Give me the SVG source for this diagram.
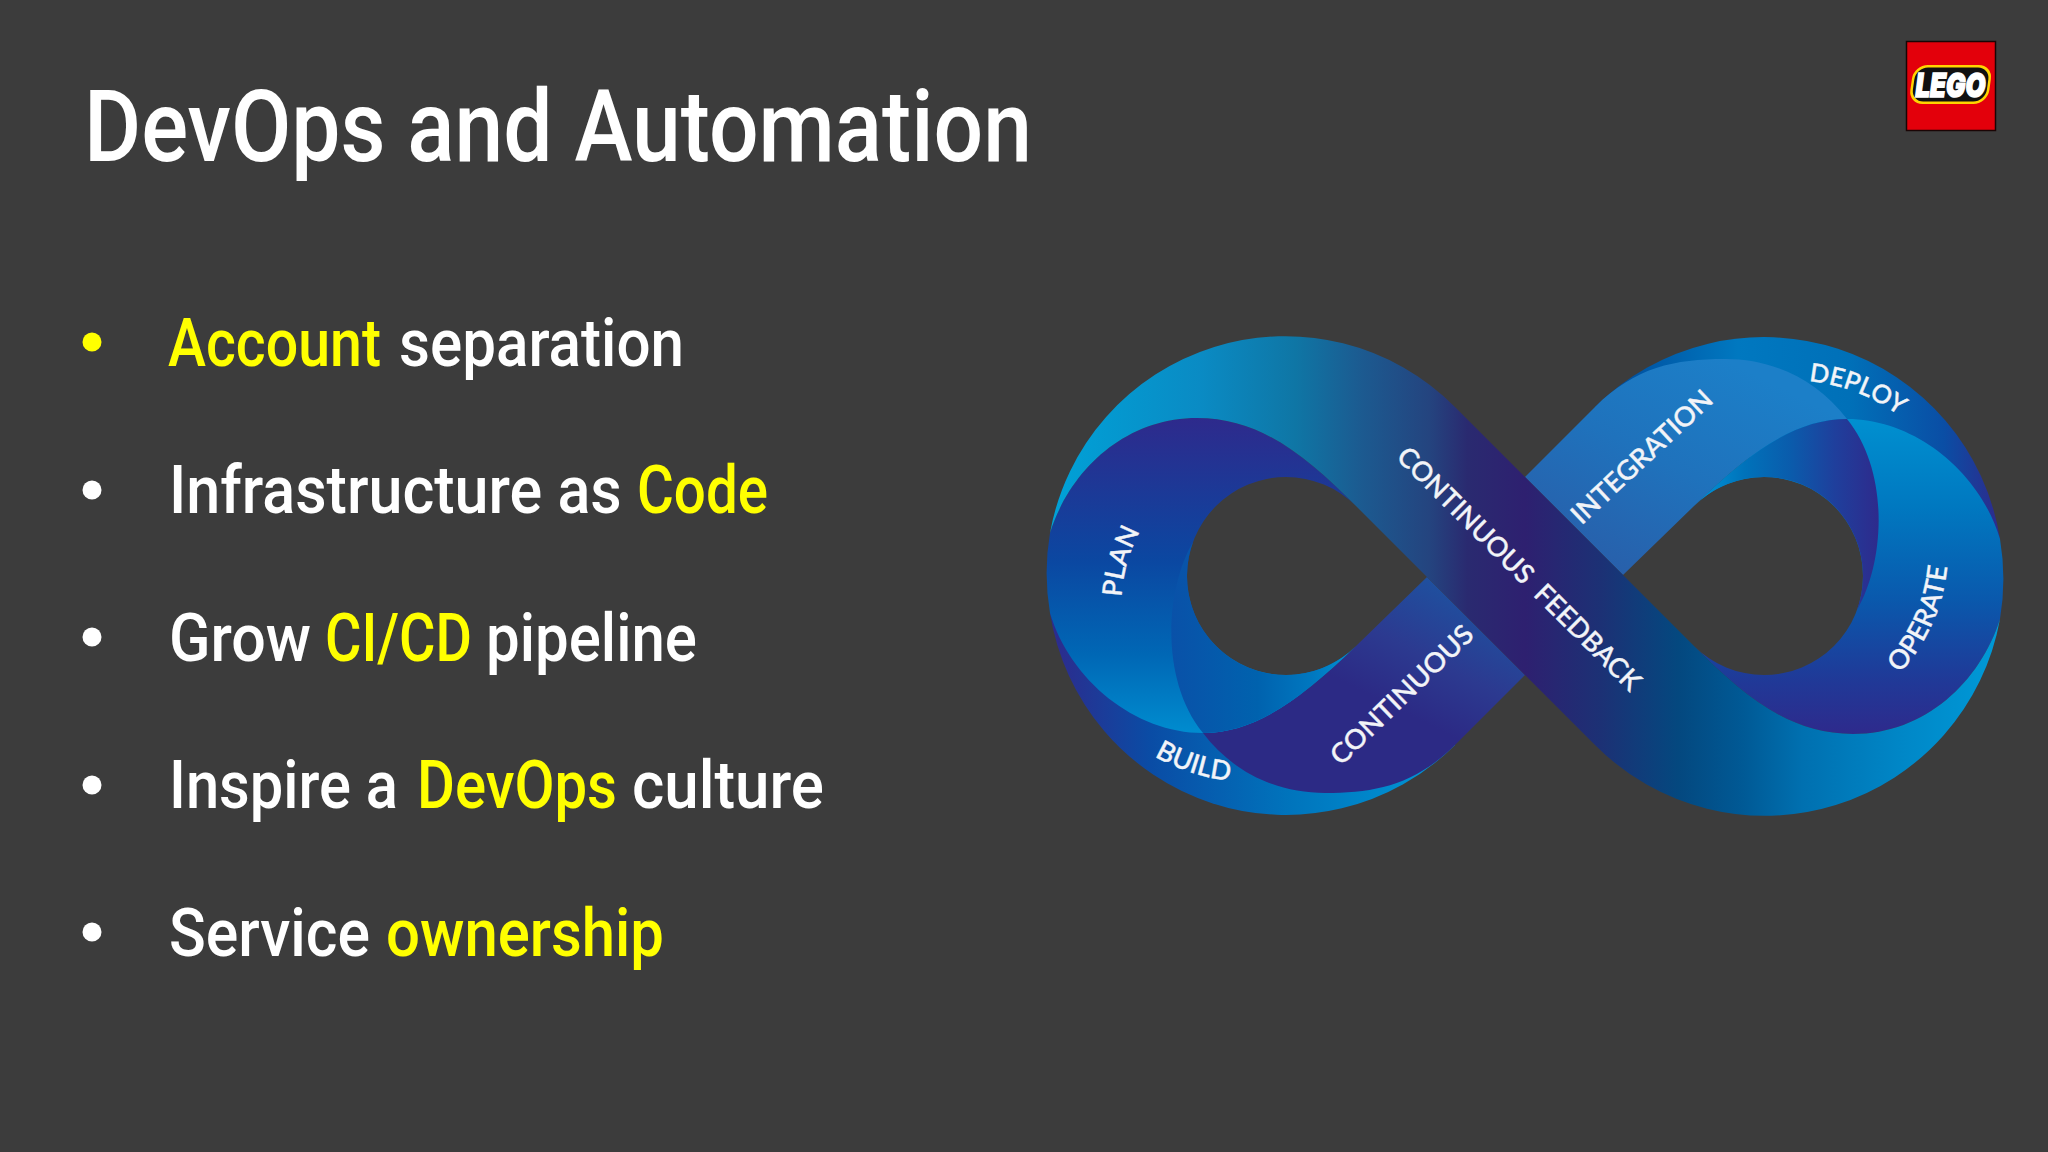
<svg xmlns="http://www.w3.org/2000/svg" xmlns:xlink="http://www.w3.org/1999/xlink" width="2048" height="1152" viewBox="0 0 2048 1152">
<style>
text{font-family:"Roboto","Liberation Sans",sans-serif;font-weight:500}
.w{fill:#fff;font-size:67px}
.y{fill:#ffff00;font-size:67px}
.l{fill:#f2f4f8;stroke:#f2f4f8;stroke-width:.4;font-family:"Lato","Liberation Sans",sans-serif;font-size:27px;font-weight:500;white-space:pre}
</style>
<defs>
<linearGradient id="gA" gradientUnits="userSpaceOnUse" x1="1047" y1="0" x2="2003" y2="0">
<stop offset="0" stop-color="#00a2d8"/><stop offset=".16" stop-color="#0a8bc4"/><stop offset=".26" stop-color="#0f76a5"/><stop offset=".33" stop-color="#1c5a90"/><stop offset=".40" stop-color="#24447f"/><stop offset=".44" stop-color="#2a2a70"/><stop offset=".5" stop-color="#2e2070"/><stop offset=".58" stop-color="#1c3175"/><stop offset=".66" stop-color="#04487f"/><stop offset=".73" stop-color="#005a96"/><stop offset=".79" stop-color="#0070b0"/><stop offset=".9" stop-color="#0088c8"/><stop offset="1" stop-color="#009ad8"/>
</linearGradient>
<linearGradient id="gB" gradientUnits="userSpaceOnUse" x1="0" y1="418" x2="0" y2="733">
<stop offset="0" stop-color="#2e2a8c"/><stop offset=".45" stop-color="#0b47a1"/><stop offset=".75" stop-color="#0067b5"/><stop offset="1" stop-color="#008ccf"/>
</linearGradient>
<linearGradient id="gB2" gradientUnits="userSpaceOnUse" x1="0" y1="418" x2="0" y2="733">
<stop offset="0" stop-color="#2e2a8c"/><stop offset=".18" stop-color="#1f3a98"/><stop offset=".42" stop-color="#0a58ac"/><stop offset=".72" stop-color="#0078c0"/><stop offset="1" stop-color="#0090d0"/>
</linearGradient>
<linearGradient id="gC" gradientUnits="userSpaceOnUse" x1="1165" y1="0" x2="1350" y2="0">
<stop offset="0" stop-color="#0a50a8"/><stop offset=".5" stop-color="#0062ae"/><stop offset=".8" stop-color="#0078c0"/><stop offset="1" stop-color="#0090d2"/>
</linearGradient>
<linearGradient id="gC2" gradientUnits="userSpaceOnUse" x1="1170" y1="0" x2="1350" y2="0">
<stop offset="0" stop-color="#2e2a8c"/><stop offset=".25" stop-color="#1f3f9c"/><stop offset=".5" stop-color="#0a5cac"/><stop offset=".75" stop-color="#0072ba"/><stop offset="1" stop-color="#0092d5"/>
</linearGradient>
<linearGradient id="gD" gradientUnits="userSpaceOnUse" x1="1427" y1="577" x2="1320" y2="790">
<stop offset="0" stop-color="#1f509f"/><stop offset=".3" stop-color="#2c3a90"/><stop offset=".55" stop-color="#2c2a85"/><stop offset="1" stop-color="#2c2a85"/>
</linearGradient>
<linearGradient id="gD2" gradientUnits="userSpaceOnUse" x1="1427" y1="577" x2="1320" y2="790">
<stop offset="0" stop-color="#2860ab"/><stop offset=".5" stop-color="#1f72bc"/><stop offset="1" stop-color="#1c7fc8"/>
</linearGradient>
<linearGradient id="gE" gradientUnits="userSpaceOnUse" x1="1050" y1="0" x2="1450" y2="0">
<stop offset="0" stop-color="#2e2a8c"/><stop offset=".25" stop-color="#0a4ca5"/><stop offset=".6" stop-color="#0074bc"/><stop offset="1" stop-color="#0098d8"/>
</linearGradient>
<linearGradient id="gE2" gradientUnits="userSpaceOnUse" x1="1050" y1="0" x2="1425" y2="0">
<stop offset="0" stop-color="#2e2a8c"/><stop offset=".15" stop-color="#0a4ea5"/><stop offset=".4" stop-color="#0070b8"/><stop offset=".7" stop-color="#0078c0"/><stop offset="1" stop-color="#0050a0"/>
</linearGradient>
<path id="pE" d="M1050,613A239,239 0 0 0 1455,745Z"/>
<path id="pD" d="M1427,577L1356,646C1300,700 1255,733 1203,733C1235,775 1280,793 1325,793C1375,793 1415,785 1455,745L1525,675Z"/>
<path id="pB" d="M1050,533C1070,470 1125,418 1197,418C1260,418 1305,455 1356,506A99,99 0 1 0 1356,646C1300,700 1255,733 1203,733C1135,733 1070,680 1050,613A239,239 0 0 1 1050,533Z"/>
<path id="pC" d="M1193,542C1165,590 1160,680 1203,733C1255,733 1300,700 1356,646A99,99 0 0 1 1193,542Z"/>
<path id="lPlan" d="M1135,670.4A157,157 0 0 1 1190,476.1"/>
<path id="lBuild" d="M1105,716.5A198,198 0 0 0 1293,778"/>
<path id="lDeploy" d="M1747,386A182,182 0 0 1 1942,460"/>
<path id="lOperate" d="M1851,711A183,183 0 0 0 1942.6,505"/>
</defs>
<rect width="2048" height="1152" fill="#3c3c3c"/>
<g id="title"><text x="84" y="161" fill="#fff" font-size="101" textLength="948" lengthAdjust="spacingAndGlyphs">DevOps and Automation</text></g>
<g id="bullets">
<circle cx="92" cy="342" r="9.5" fill="#ffff00"/>
<circle cx="92" cy="490" r="9.5" fill="#fff"/>
<circle cx="92" cy="637" r="9.5" fill="#fff"/>
<circle cx="92" cy="785" r="9.5" fill="#fff"/>
<circle cx="92" cy="932" r="9.5" fill="#fff"/>
<text class="y" x="168" y="366" textLength="213" lengthAdjust="spacingAndGlyphs">Account</text>
<text class="w" x="399" y="366" textLength="285" lengthAdjust="spacingAndGlyphs">separation</text>
<text class="w" transform="translate(169 513) scale(.9 1)" textLength="503" lengthAdjust="spacingAndGlyphs">Infrastructure as</text>
<text class="y" x="637" y="513" textLength="131" lengthAdjust="spacingAndGlyphs">Code</text>
<text class="w" x="169" y="661" textLength="142" lengthAdjust="spacingAndGlyphs">Grow</text>
<text class="y" x="325" y="661" textLength="147" lengthAdjust="spacingAndGlyphs">CI/CD</text>
<text class="w" x="486" y="661" textLength="211" lengthAdjust="spacingAndGlyphs">pipeline</text>
<text class="w" x="169" y="808" textLength="229" lengthAdjust="spacingAndGlyphs">Inspire a</text>
<text class="y" x="417" y="808" textLength="200" lengthAdjust="spacingAndGlyphs">DevOps</text>
<text class="w" x="632" y="808" textLength="192" lengthAdjust="spacingAndGlyphs">culture</text>
<text class="w" x="169" y="956" textLength="201" lengthAdjust="spacingAndGlyphs">Service</text>
<text class="y" x="386" y="956" textLength="278" lengthAdjust="spacingAndGlyphs">ownership</text>
</g>
<g id="logo">
<rect x="1906.5" y="41.5" width="89" height="89" fill="#e3000b" stroke="#1a0505" stroke-width="1.5"/>
<rect x="1911" y="65" width="79" height="39" rx="14" fill="#ffd400" transform="skewX(-8) translate(12 0)"/>
<rect x="1913.5" y="67.5" width="74" height="34" rx="12" fill="#111" transform="skewX(-8) translate(12 0)"/>
<text x="1950.5" y="96.5" text-anchor="middle" font-size="33" font-style="italic" textLength="70" lengthAdjust="spacingAndGlyphs" fill="#fff" stroke="#fff" stroke-width="1.6" style="font-family:'Inter','Liberation Sans',sans-serif;font-weight:900">LEGO</text>
</g>
<g id="infinity">
<use href="#pE" fill="url(#gE)"/>
<use href="#pD" fill="url(#gD)"/>
<use href="#pB" fill="url(#gB)"/>
<use href="#pC" fill="url(#gC)"/>
<g transform="rotate(180 1525 576)">
<use href="#pE" fill="url(#gE2)"/>
<use href="#pD" fill="url(#gD2)"/>
<use href="#pB" fill="url(#gB2)"/>
<use href="#pC" fill="url(#gC2)"/>
</g>
<path id="band" fill="url(#gA)" d="M1050,533A239,239 0 0 1 1455,407L1694,646C1745,697 1790,734 1853,734C1925,734 1980,682 2000,619A239,239 0 0 1 1595,745L1356,506C1305,455 1260,418 1197,418C1125,418 1070,470 1050,533Z"/>
</g>
<g id="labels">
<text class="l" text-anchor="middle" transform="translate(1519,569) rotate(45)" y="9" textLength="332" lengthAdjust="spacingAndGlyphs">CONTINUOUS  FEEDBACK</text>
<text class="l" text-anchor="middle" transform="translate(1402,695) rotate(-44)" y="9" textLength="187" lengthAdjust="spacingAndGlyphs">CONTINUOUS</text>
<text class="l" text-anchor="middle" transform="translate(1642,457) rotate(-43)" y="9" textLength="182" lengthAdjust="spacingAndGlyphs">INTEGRATION</text>
<text class="l" text-anchor="middle"><textPath href="#lPlan" startOffset="50%">PLAN</textPath></text>
<text class="l" text-anchor="middle"><textPath href="#lBuild" startOffset="50%">BUILD</textPath></text>
<text class="l" text-anchor="middle" style="font-size:25.5px"><textPath href="#lDeploy" startOffset="50%">DEPLOY</textPath></text>
<text class="l" text-anchor="middle"><textPath href="#lOperate" startOffset="50%">OPERATE</textPath></text>
</g>
</svg>
